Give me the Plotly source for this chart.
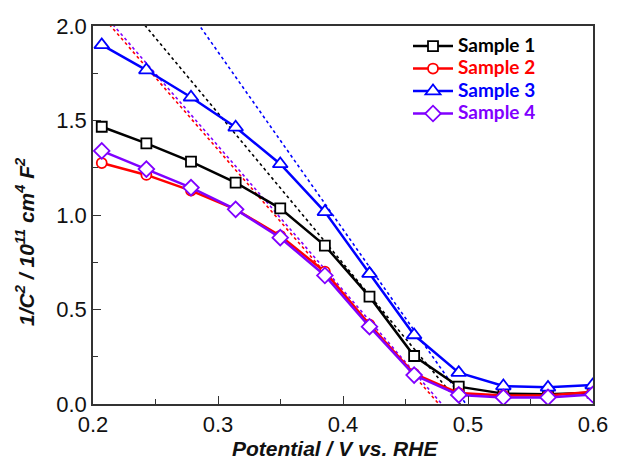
import plotly.graph_objects as go

# ---- data ----
potential = [0.207, 0.2427, 0.2784, 0.3141, 0.3498, 0.3855, 0.4212, 0.4569, 0.4926, 0.5283, 0.564, 0.5997]
sample1 = [1.467, 1.379, 1.282, 1.171, 1.035, 0.838, 0.568, 0.254, 0.092, 0.055, 0.052, 0.060]
sample2 = [1.275, 1.212, 1.129, 1.030, 0.890, 0.700, 0.420, 0.160, 0.058, 0.045, 0.045, 0.065]
sample3 = [1.900, 1.767, 1.623, 1.464, 1.270, 1.017, 0.690, 0.365, 0.166, 0.095, 0.088, 0.100]
sample4 = [1.339, 1.243, 1.145, 1.030, 0.880, 0.680, 0.409, 0.153, 0.048, 0.035, 0.035, 0.050]

names = ["Sample 1", "Sample 2", "Sample 3", "Sample 4"]
series = [sample1, sample2, sample3, sample4]
colors = ["#000000", "#ff0000", "#0000ff", "#8000ff"]
symbols = ["square", "circle", "triangle-up", "diamond"]
sizes = [10, 10, 13, 12]

# linear (Mott-Schottky) fits: x-intercept (flat-band potential) and slope
fit_x0 = [0.4936, 0.4766, 0.4984, 0.4790]
fit_slope = [-7.95, -7.62, -9.39, -7.63]

fig = go.Figure()

# dotted fit lines
for x0, s, c in zip(fit_x0, fit_slope, colors):
    xa = x0 + 2.2 / s
    xb = x0 - 0.2 / s
    xs = [xa, xb]
    ys = [s * (x - x0) for x in xs]
    fig.add_trace(go.Scatter(x=xs, y=ys, mode="lines", showlegend=False,
                             line=dict(color=c, width=1.6, dash="dot"), hoverinfo="skip"))

for n, y, c, sym, sz in zip(names, series, colors, symbols, sizes):
    fig.add_trace(go.Scatter(
        x=potential, y=y, mode="lines+markers",
        name=f"<b><span style='color:{c};font-size:19px'>{n}</span></b>",
        line=dict(color=c, width=2.5),
        marker=dict(symbol=sym, size=sz, color="white", line=dict(color=c, width=1.8)),
    ))

axis_common = dict(
    showline=True, linecolor="#333333", linewidth=1.5, mirror=True,
    ticks="inside", ticklen=8, tickwidth=1.2, tickcolor="#333333",
    showgrid=False, zeroline=False,
    tickfont=dict(family="Liberation Sans, Arial", size=22, color="#111111"),
)

fig.update_xaxes(range=[0.2, 0.6], tickvals=[0.2, 0.3, 0.4, 0.5, 0.6], tickformat=".1f",
                 minor=dict(ticks="inside", ticklen=5, tickwidth=1.2, tickcolor="#333333", dtick=0.05),
                 **axis_common)
fig.update_yaxes(range=[0, 2.0], tickvals=[0, 0.5, 1.0, 1.5, 2.0], tickformat=".1f",
                 minor=dict(ticks="inside", ticklen=5, tickwidth=1.2, tickcolor="#333333", dtick=0.25),
                 **axis_common)

title_font = dict(family="Liberation Sans, Arial", size=21, color="#111111", weight="bold", style="italic")

fig.add_annotation(text="Potential / V vs. RHE", xref="paper", yref="paper",
                   x=0.274, y=-0.119, xanchor="left", yanchor="middle", showarrow=False, font=title_font)
fig.add_annotation(text="1/C<sup>2</sup> / 10<sup>11</sup> cm<sup>4</sup> F<sup>2</sup>",
                   xref="paper", yref="paper", x=-0.136, y=0.2, xanchor="center", yanchor="bottom",
                   textangle=-90, showarrow=False, font=title_font)

fig.update_layout(
    width=620, height=461,
    margin=dict(l=93, r=18, t=26, b=57),
    plot_bgcolor="white", paper_bgcolor="white",
    legend=dict(x=0.63, y=0.99, xanchor="left", yanchor="top", bgcolor="rgba(0,0,0,0)",
                font=dict(family="Lato", size=15), itemwidth=40, tracegroupgap=0),
)

fig.write_html("out.html", post_script="document.body.style.margin='0';",
               config={"displayModeBar": False})
